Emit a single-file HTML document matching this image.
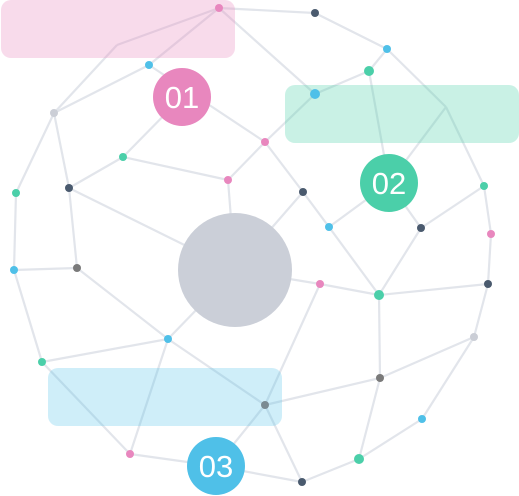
<!DOCTYPE html>
<html><head><meta charset="utf-8">
<style>
html,body{margin:0;padding:0;background:#fff;}
svg{display:block;}
text{font-family:"Liberation Sans",sans-serif;}
</style></head>
<body>
<svg id="chart" width="519" height="496" viewBox="0 0 519 496" xmlns="http://www.w3.org/2000/svg">
<g id="edges"></g>
<g id="boxes">
<rect x="1" y="0" width="234" height="58" rx="10" fill="rgba(232,137,190,0.3)"/>
<rect x="285" y="85" width="234" height="58" rx="10" fill="rgba(75,207,169,0.3)"/>
<rect x="48" y="368" width="234" height="58" rx="10" fill="rgba(79,192,232,0.27)"/>
</g>
<g id="nodes"></g>
<circle cx="235" cy="270" r="57" fill="#cbcfd8"/>
<g><circle cx="182" cy="97" r="29" fill="#e887be"/><text x="182" y="108" text-anchor="middle" font-size="31" fill="#fff">01</text></g>
<g><circle cx="389" cy="183" r="29" fill="#4bcfa9"/><text x="389" y="194" text-anchor="middle" font-size="31" fill="#fff">02</text></g>
<g><circle cx="216" cy="466" r="29" fill="#4fc0e8"/><text x="216" y="477" text-anchor="middle" font-size="31" fill="#fff">03</text></g>
</svg>
<script>
const nodeIds=["A","B","C","D","E","F","G","H","I","J","K","L","M","N","O","P","Q","R","S","T","U","V","W","X","Y","Z","AA","AB","AC","AD","AE","AF","AG","B1","B2","B3","CC"];
const nodeX=[219,315,387,369,315,54,117,149,265,123,228,69,303,16,446,484,329,421,491,14,77,320,379,488,168,42,474,380,265,422,130,359,302,182,389,216,235];
const nodeY=[8,13,49,71,94,113,45,65,142,157,180,188,192,193,107,186,227,228,234,270,268,284,295,284,339,362,337,378,405,419,454,459,482,97,183,466,270];
const nodeColor=["#e887be","#4a5a6e","#4fc0e8","#4bcfa9","#4fc0e8","#cbced6",null,"#4fc0e8","#e887be","#4bcfa9","#e887be","#4a5a6e","#4a5a6e","#4bcfa9",null,"#4bcfa9","#4fc0e8","#4a5a6e","#e887be","#4fc0e8","#7a7a7a","#e887be","#4bcfa9","#4a5a6e","#4fc0e8","#4bcfa9","#cbced6","#7a7a7a","#7a8a92","#4fc0e8","#e887be","#4bcfa9","#4a5a6e",null,null,null,null];
const nodeR=[4,4,4,5,5,4,0,4,4,4,4,4,4,4,0,4,4,4,4,4,4,4,5,4,4,4,4,4,4,4,4,5,4,0,0,0,0];
const edges=[["A","B"],["B","C"],["C","D"],["D","E"],["A","E"],["A","G"],["G","F"],["A","H"],["H","F"],["H","I"],["F","N"],["F","L"],["J","L"],["J","B1"],["J","K"],["K","I"],["I","E"],["I","M"],["K","CC"],["M","Q"],["M","CC"],["Q","B2"],["D","B2"],["O","B2"],["C","O"],["O","P"],["P","R"],["P","S"],["R","B2"],["R","W"],["Q","W"],["S","X"],["N","T"],["L","U"],["L","CC"],["T","U"],["U","Y"],["T","Z"],["Z","Y"],["Y","CC"],["Y","AE"],["Z","AE"],["Y","AC"],["V","CC"],["V","W"],["V","AC"],["W","X"],["W","AB"],["X","AA"],["AA","AB"],["AA","AD"],["AB","AC"],["AB","AF"],["AD","AF"],["AF","AG"],["AC","AG"],["AC","B3"],["AE","B3"],["B3","AG"]];
const NS="http://www.w3.org/2000/svg";
const idx=id=>nodeIds.indexOf(id);
const eg=document.getElementById("edges");
edges.forEach(([a,b])=>{
  const i=idx(a),j=idx(b);
  const l=document.createElementNS(NS,"line");
  l.setAttribute("x1",nodeX[i]);l.setAttribute("y1",nodeY[i]);
  l.setAttribute("x2",nodeX[j]);l.setAttribute("y2",nodeY[j]);
  l.setAttribute("stroke","#e2e5eb");l.setAttribute("stroke-width","2.2");
  
  
  eg.appendChild(l);
});
const ng=document.getElementById("nodes");
nodeIds.forEach((id,i)=>{
  if(!nodeColor[i]||!nodeR[i])return;
  const c=document.createElementNS(NS,"circle");
  c.setAttribute("cx",nodeX[i]);c.setAttribute("cy",nodeY[i]);
  c.setAttribute("r",nodeR[i]);c.setAttribute("fill",nodeColor[i]);
  
  
  ng.appendChild(c);
});
</script>
</body></html>
